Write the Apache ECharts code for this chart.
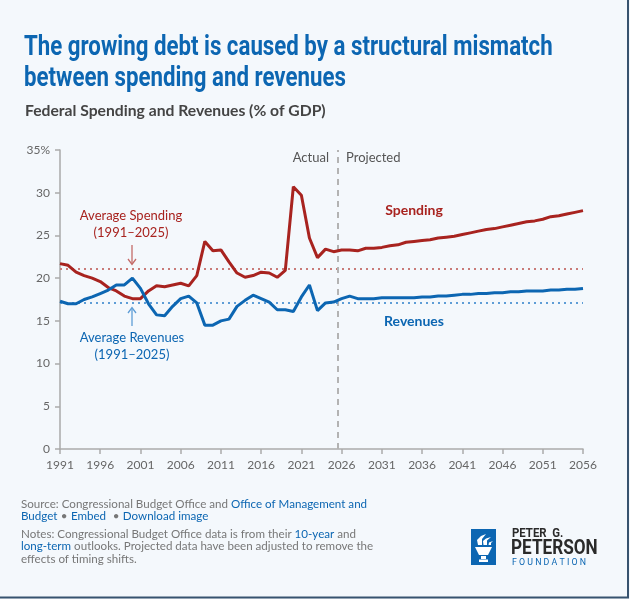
<!DOCTYPE html>
<html><head><meta charset="utf-8">
<script src="https://cdn.jsdelivr.net/npm/echarts@6/dist/echarts.min.js"></script>
<style>html,body{margin:0;padding:0;background:#f4f8fc}#c{width:630px;height:599px}</style>
</head><body><div id="c"></div><script>
// ---- data ----
const years = [1991,1992,1993,1994,1995,1996,1997,1998,1999,2000,2001,2002,2003,2004,2005,2006,2007,2008,2009,2010,
  2011,2012,2013,2014,2015,2016,2017,2018,2019,2020,2021,2022,2023,2024,2025,
  2026,2027,2028,2029,2030,2031,2032,2033,2034,2035,2036,2037,2038,2039,2040,
  2041,2042,2043,2044,2045,2046,2047,2048,2049,2050,2051,2052,2053,2054,2055,2056];
const spending = [21.7,21.5,20.7,20.3,20.0,19.6,18.9,18.5,17.9,17.6,17.6,18.5,19.1,19.0,19.2,19.4,19.1,20.3,24.3,23.2,
  23.3,21.9,20.6,20.1,20.3,20.7,20.6,20.1,20.9,30.7,29.7,24.7,22.4,23.4,23.1,
  23.3,23.3,23.2,23.5,23.5,23.6,23.8,23.9,24.2,24.3,24.4,24.5,24.7,24.8,24.9,
  25.1,25.3,25.5,25.7,25.8,26.0,26.2,26.4,26.6,26.7,26.9,27.2,27.3,27.5,27.7,27.9];
const revenues = [17.3,17.0,17.0,17.5,17.8,18.2,18.6,19.2,19.2,20.0,18.8,17.0,15.7,15.6,16.7,17.6,17.9,17.1,14.5,14.5,
  15.0,15.2,16.7,17.4,18.0,17.6,17.2,16.3,16.3,16.1,17.8,19.2,16.2,17.1,17.2,
  17.6,17.9,17.6,17.6,17.6,17.7,17.7,17.7,17.7,17.7,17.8,17.8,17.9,17.9,18.0,
  18.1,18.1,18.2,18.2,18.3,18.3,18.4,18.4,18.5,18.5,18.5,18.6,18.6,18.7,18.7,18.8];
const avgSpending = 21.1;
const avgRevenues = 17.15;
const baseYear = 1991;
const lastYear = 2056;
const splitYear = 2025.5;
const yTicks = [0,5,10,15,20,25,30,35];

const RED = '#a8231f', BLUE = '#0c66b2', GREY = '#666';
const chart = echarts.init(document.getElementById('c'), null, {renderer:'canvas'});
const toPairs = arr => years.map((y,i)=>[y-baseYear, arr[i]]);

const option = {
  backgroundColor:'#f4f8fc',
  textStyle:{fontFamily:'Lato'},
  grid:{left:60, right:47, top:150, bottom:150},
  xAxis:{type:'value', min:0, max:lastYear-baseYear, interval:5,
    axisLine:{lineStyle:{color:'#aaa', width:1.5}},
    axisTick:{show:true, length:5, lineStyle:{color:'#aaa', width:1.5}},
    axisLabel:{color:GREY, fontSize:12, margin:10, fontFamily:'Lato', formatter:v=>String(v+baseYear)},
    splitLine:{show:false}},
  yAxis:{type:'value', min:yTicks[0], max:yTicks[yTicks.length-1], interval:5,
    axisLine:{show:true, lineStyle:{color:'#aaa', width:1.5}},
    axisTick:{show:true, length:5, lineStyle:{color:'#aaa', width:1.5}},
    axisLabel:{color:GREY, fontSize:12, margin:10, fontFamily:'Lato', formatter:v=> v===35 ? '35%' : String(v)},
    splitLine:{show:false}},
  series:[
    {type:'line', name:'Spending', data:toPairs(spending), showSymbol:false, z:5,
      lineStyle:{color:RED, width:3}, itemStyle:{color:RED},
      markLine:{silent:true, symbol:'none', label:{show:false}, z:1,
        data:[{yAxis:avgSpending, lineStyle:{color:'#c97b78', type:[2,4], width:2}},
              {xAxis:splitYear-baseYear, lineStyle:{color:'#b3b3b3', type:[6,5], width:2}}]}},
    {type:'line', name:'Revenues', data:toPairs(revenues), showSymbol:false, z:5,
      lineStyle:{color:BLUE, width:3}, itemStyle:{color:BLUE},
      markLine:{silent:true, symbol:'none', label:{show:false}, z:1,
        data:[{yAxis:avgRevenues, lineStyle:{color:'#5e9dd6', type:[2,4], width:2}}]}}
  ],
  graphic:[
    // titles
    {type:'text', x:24, y:32, scaleX:0.795, style:{text:'The growing debt is caused by a structural mismatch\nbetween spending and revenues',
      fill:BLUE, font:'bold 28px Roboto, sans-serif', lineHeight:31}},
    {type:'text', x:25, y:103, style:{text:'Federal Spending and Revenues (% of GDP)', fill:'#444', font:'bold 15.7px Lato'}},
    // annotations
    {type:'text', x:131, y:224, style:{text:'Average Spending\n(1991–2025)', fill:RED, font:'13px Lato', align:'center', verticalAlign:'middle', lineHeight:17}},
    {type:'text', x:132, y:346, style:{text:'Average Revenues\n(1991–2025)', fill:BLUE, font:'13px Lato', align:'center', verticalAlign:'middle', lineHeight:17}},
    {type:'line', shape:{x1:132,y1:245,x2:132,y2:264}, style:{stroke:'#c46a68', lineWidth:1.3}},
    {type:'polyline', shape:{points:[[128,259],[132,264.5],[136,259]]}, style:{stroke:'#c46a68', lineWidth:1.3, fill:null}},
    {type:'line', shape:{x1:132,y1:326,x2:132,y2:308}, style:{stroke:'#5e9dd6', lineWidth:1.3}},
    {type:'polyline', shape:{points:[[128,313],[132,307.5],[136,313]]}, style:{stroke:'#5e9dd6', lineWidth:1.3, fill:null}},
    {type:'text', x:414, y:210, style:{text:'Spending', fill:RED, font:'bold 14px Lato', align:'center', verticalAlign:'middle'}},
    {type:'text', x:414, y:321, style:{text:'Revenues', fill:BLUE, font:'bold 14px Lato', align:'center', verticalAlign:'middle'}},
    {type:'text', x:329, y:158, style:{text:'Actual', fill:'#555', font:'13px Lato', align:'right', verticalAlign:'middle'}},
    {type:'text', x:346, y:158, style:{text:'Projected', fill:'#555', font:'13px Lato', align:'left', verticalAlign:'middle'}},
    // footer
    {type:'text', x:21, y:497.5, style:{
      text:'{g|Source: Congressional Budget Office and }{b|Office of Management and}\n{b|Budget} {g|•} {b|Embed}  {g|•} {b|Download image}',
      lineHeight:12.5, rich:{g:{fill:'#777', font:'11.6px Lato', lineHeight:12.5}, b:{fill:BLUE, font:'11.6px Lato', lineHeight:12.5}}}},
    {type:'text', x:21, y:527.5, style:{
      text:'{g|Notes: Congressional Budget Office data is from their }{b|10-year}{g| and}\n{b|long-term}{g| outlooks. Projected data have been adjusted to remove the}\n{g|effects of timing shifts.}',
      lineHeight:12.5, rich:{g:{fill:'#777', font:'11.6px Lato', lineHeight:12.5}, b:{fill:BLUE, font:'11.6px Lato', lineHeight:12.5}}}},
    // logo
    {type:'rect', shape:{x:471,y:529,width:25,height:36}, style:{fill:'#0c66b2'}},
    {type:'polygon', shape:{points:[[475,547],[492,547],[488,555],[479,555]]}, style:{fill:'#fff'}},
    {type:'rect', shape:{x:481,y:556,width:5,height:3}, style:{fill:'#fff'}},
    {type:'rect', shape:{x:479,y:559.5,width:9,height:2.5}, style:{fill:'#fff'}},
    {type:'polygon', shape:{points:[[478,545],[477,540],[481,536],[486,534],[482,539],[482,545]]}, style:{fill:'#fff'}},
    {type:'polygon', shape:{points:[[483.5,545],[483,541],[486,538.5],[491,537],[487,540.5],[487,545]]}, style:{fill:'#fff'}},
    {type:'polygon', shape:{points:[[488.5,545],[489,542.5],[493,541],[491,543],[491,545]]}, style:{fill:'#fff'}},
    {type:'text', x:512, y:528, scaleX:0.95, style:{text:'PETER  G.', fill:'#2a2a2a', font:'bold 12px Roboto, sans-serif'}},
    {type:'text', x:511, y:539.5, scaleX:0.88, style:{text:'PETERSON', fill:'#2a2a2a', font:'bold 19.5px Roboto, sans-serif'}},
    {type:'text', x:512, y:558.5, style:{text:'F O U N D A T I O N', fill:'#0c66b2', font:'8.8px Roboto'}},
    // border
    {type:'line', shape:{x1:628,y1:0,x2:628,y2:598}, style:{stroke:'#37536f', lineWidth:2}},
    {type:'line', shape:{x1:0,y1:597.5,x2:629,y2:597.5}, style:{stroke:'#37536f', lineWidth:2}}
  ]
};
chart.setOption(option);
</script></body></html>
